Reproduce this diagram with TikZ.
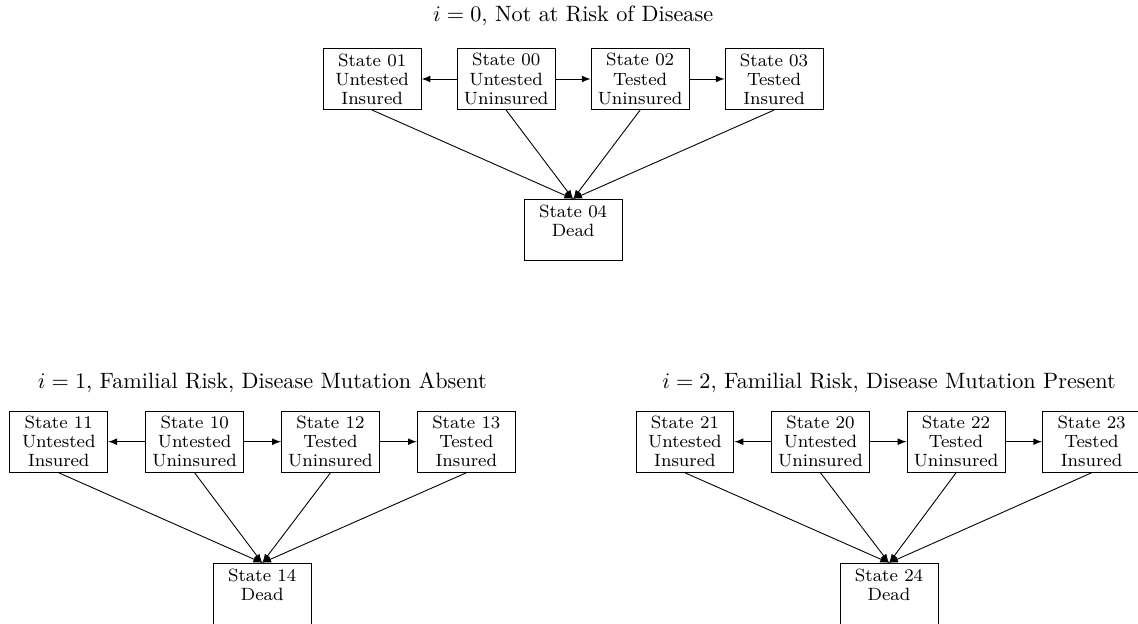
\documentclass[tikz,border=0pt]{standalone}
\begin{document}
\begin{tikzpicture}[>=latex,
    state/.style={draw, align=center, font=\fontsize{8}{8.6}\selectfont,
      minimum width=1.55cm, minimum height=0.97cm, inner sep=1pt}]
  \useasboundingbox (0,0) rectangle (18.01,-9.86);
  % i = 0
  \node (t0) at (9.07,-0.25) {$i = 0$, Not at Risk of Disease};
  \node[state] (s01) at (5.89,-1.25) {State 01\\Untested\\Insured};
  \node[state] (s00) [right of=s01, node distance=2.12cm] {State 00\\Untested\\Uninsured};
  \node[state] (s02) [right of=s00, node distance=2.12cm] {State 02\\Tested\\Uninsured};
  \node[state] (s03) [right of=s02, node distance=2.12cm] {State 03\\Tested\\Insured};
  \node[state] (s04) at (9.07,-3.64) {State 04\\Dead\\\mbox{}};
  % i = 1
  \node (t1) at (4.15,-6.06) {$i = 1$, Familial Risk, Disease Mutation Absent};
  \node[state] (s11) at (0.93,-6.99) {State 11\\Untested\\Insured};
  \node[state] (s10) [right of=s11, node distance=2.15cm] {State 10\\Untested\\Uninsured};
  \node[state] (s12) [right of=s10, node distance=2.15cm] {State 12\\Tested\\Uninsured};
  \node[state] (s13) [right of=s12, node distance=2.15cm] {State 13\\Tested\\Insured};
  \node[state] (s14) at (4.15,-9.40) {State 14\\Dead\\\mbox{}};
  % i = 2
  \node (t2) at (14.07,-6.06) {$i = 2$, Familial Risk, Disease Mutation Present};
  \node[state] (s21) at (10.84,-6.99) {State 21\\Untested\\Insured};
  \node[state] (s20) [right of=s21, node distance=2.145cm] {State 20\\Untested\\Uninsured};
  \node[state] (s22) [right of=s20, node distance=2.145cm] {State 22\\Tested\\Uninsured};
  \node[state] (s23) [right of=s22, node distance=2.145cm] {State 23\\Tested\\Insured};
  \node[state] (s24) at (14.07,-9.40) {State 24\\Dead\\\mbox{}};
  \path[->] (s00) edge (s01)
            (s00) edge (s02)
            (s02) edge (s03)
            (s01.south) edge (s04.north)
            (s00.south) edge (s04.north)
            (s02.south) edge (s04.north)
            (s03.south) edge (s04.north)
            (s10) edge (s11)
            (s10) edge (s12)
            (s12) edge (s13)
            (s11.south) edge (s14.north)
            (s10.south) edge (s14.north)
            (s12.south) edge (s14.north)
            (s13.south) edge (s14.north)
            (s20) edge (s21)
            (s20) edge (s22)
            (s22) edge (s23)
            (s21.south) edge (s24.north)
            (s20.south) edge (s24.north)
            (s22.south) edge (s24.north)
            (s23.south) edge (s24.north)
            ;
\end{tikzpicture}
\end{document}
